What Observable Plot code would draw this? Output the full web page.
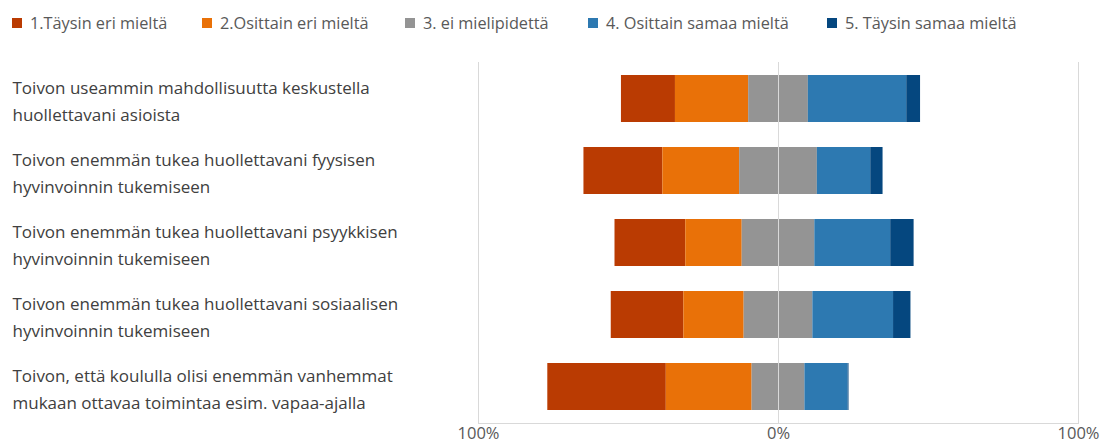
<!DOCTYPE html>
<html>
<head>
<meta charset="utf-8">
<script src="https://cdn.jsdelivr.net/npm/d3@7"></script>
<script src="https://cdn.jsdelivr.net/npm/@observablehq/plot@0.6"></script>
<style>
  html, body { margin: 0; padding: 0; background: #fff; }
  #wrap { position: relative; width: 1103px; height: 446px; font-family: "Open Sans", "Noto Sans", sans-serif; }
  #legend { position: absolute; left: 0; top: 0; width: 1103px; height: 40px; }
  .item { position: absolute; top: 12px; display: flex; align-items: center; font-size: 16.3px; line-height: 22px; color: #595959; white-space: nowrap; }
  .sw { width: 10px; height: 10px; margin-right: 8px; }
  #chart { position: absolute; left: 0; top: 0; }
</style>
</head>
<body>
<div id="wrap">
  <div id="chart"></div>
  <div id="legend"></div>
</div>
<script>
const categories = [
  "Toivon useammin mahdollisuutta keskustella\nhuollettavani asioista",
  "Toivon enemmän tukea huollettavani fyysisen\nhyvinvoinnin tukemiseen",
  "Toivon enemmän tukea huollettavani psyykkisen\nhyvinvoinnin tukemiseen",
  "Toivon enemmän tukea huollettavani sosiaalisen\nhyvinvoinnin tukemiseen",
  "Toivon, että koululla olisi enemmän vanhemmat\nmukaan ottavaa toimintaa esim. vapaa-ajalla"
];
const seriesNames = [
  "1.Täysin eri mieltä",
  "2.Osittain eri mieltä",
  "3. ei mielipidettä",
  "4. Osittain samaa mieltä",
  "5. Täysin samaa mieltä"
];
const colors = ["#BA3B02", "#E97108", "#949494", "#2D79B1", "#05477F"];
// percentages per category
const s1 = [18.0, 26.3, 23.6, 24.2, 39.5];
const s2 = [24.4, 25.6, 18.8, 20.1, 28.6];
const s3 = [19.9, 25.9, 24.2, 22.9, 17.6];
const s4 = [32.8, 17.8, 25.3, 26.9, 14.4];
const s5 = [4.6, 4.1, 7.8, 5.8, 0.3];
const xTicks = [-100, 0, 100];
const legendX = [12, 202, 405, 588, 827];

const vals = [s1, s2, s3, s4, s5];
const rows = [];
categories.forEach((c, i) => {
  let x = -(s1[i] + s2[i] + s3[i] / 2);
  seriesNames.forEach((s, k) => {
    const v = vals[k][i];
    rows.push({cat: c, series: s, x1: x, x2: x + v});
    x += v;
  });
});

const chart = Plot.plot({
  width: 1103,
  height: 446,
  marginTop: 62,
  marginBottom: 23,
  marginLeft: 478,
  marginRight: 25,
  style: {fontFamily: "'Open Sans', 'Noto Sans', sans-serif", background: "#fff", overflow: "visible"},
  x: {domain: [-100, 100], axis: null},
  y: {domain: categories, paddingInner: 0.35, paddingOuter: 0.18, axis: null},
  color: {domain: seriesNames, range: colors},
  marks: [
    Plot.ruleX([-100, 100], {stroke: "#d9d9d9", strokeWidth: 1}),
    Plot.frame({anchor: "bottom", stroke: "#d9d9d9"}),
    Plot.barX(rows, {y: "cat", x1: "x1", x2: "x2", fill: "series"}),
    Plot.ruleX([0], {stroke: "#d9d9d9", strokeWidth: 1}),
    Plot.axisX(xTicks, {tickSize: 0, tickPadding: 4, tickFormat: d => Math.abs(d) + "%", fontSize: 16.5, fill: "#595959", label: null}),
    Plot.text(categories, {y: d => d, text: d => d, frameAnchor: "left", dx: -466, textAnchor: "start", lineHeight: 1.6, fontSize: 17, fill: "#404040"})
  ]
});
document.getElementById("chart").appendChild(chart);

const legend = document.getElementById("legend");
seriesNames.forEach((s, k) => {
  const it = document.createElement("div");
  it.className = "item";
  it.style.left = legendX[k] + "px";
  const sw = document.createElement("span");
  sw.className = "sw";
  sw.style.background = colors[k];
  const t = document.createElement("span");
  t.textContent = s;
  it.appendChild(sw);
  it.appendChild(t);
  legend.appendChild(it);
});
</script>
</body>
</html>
